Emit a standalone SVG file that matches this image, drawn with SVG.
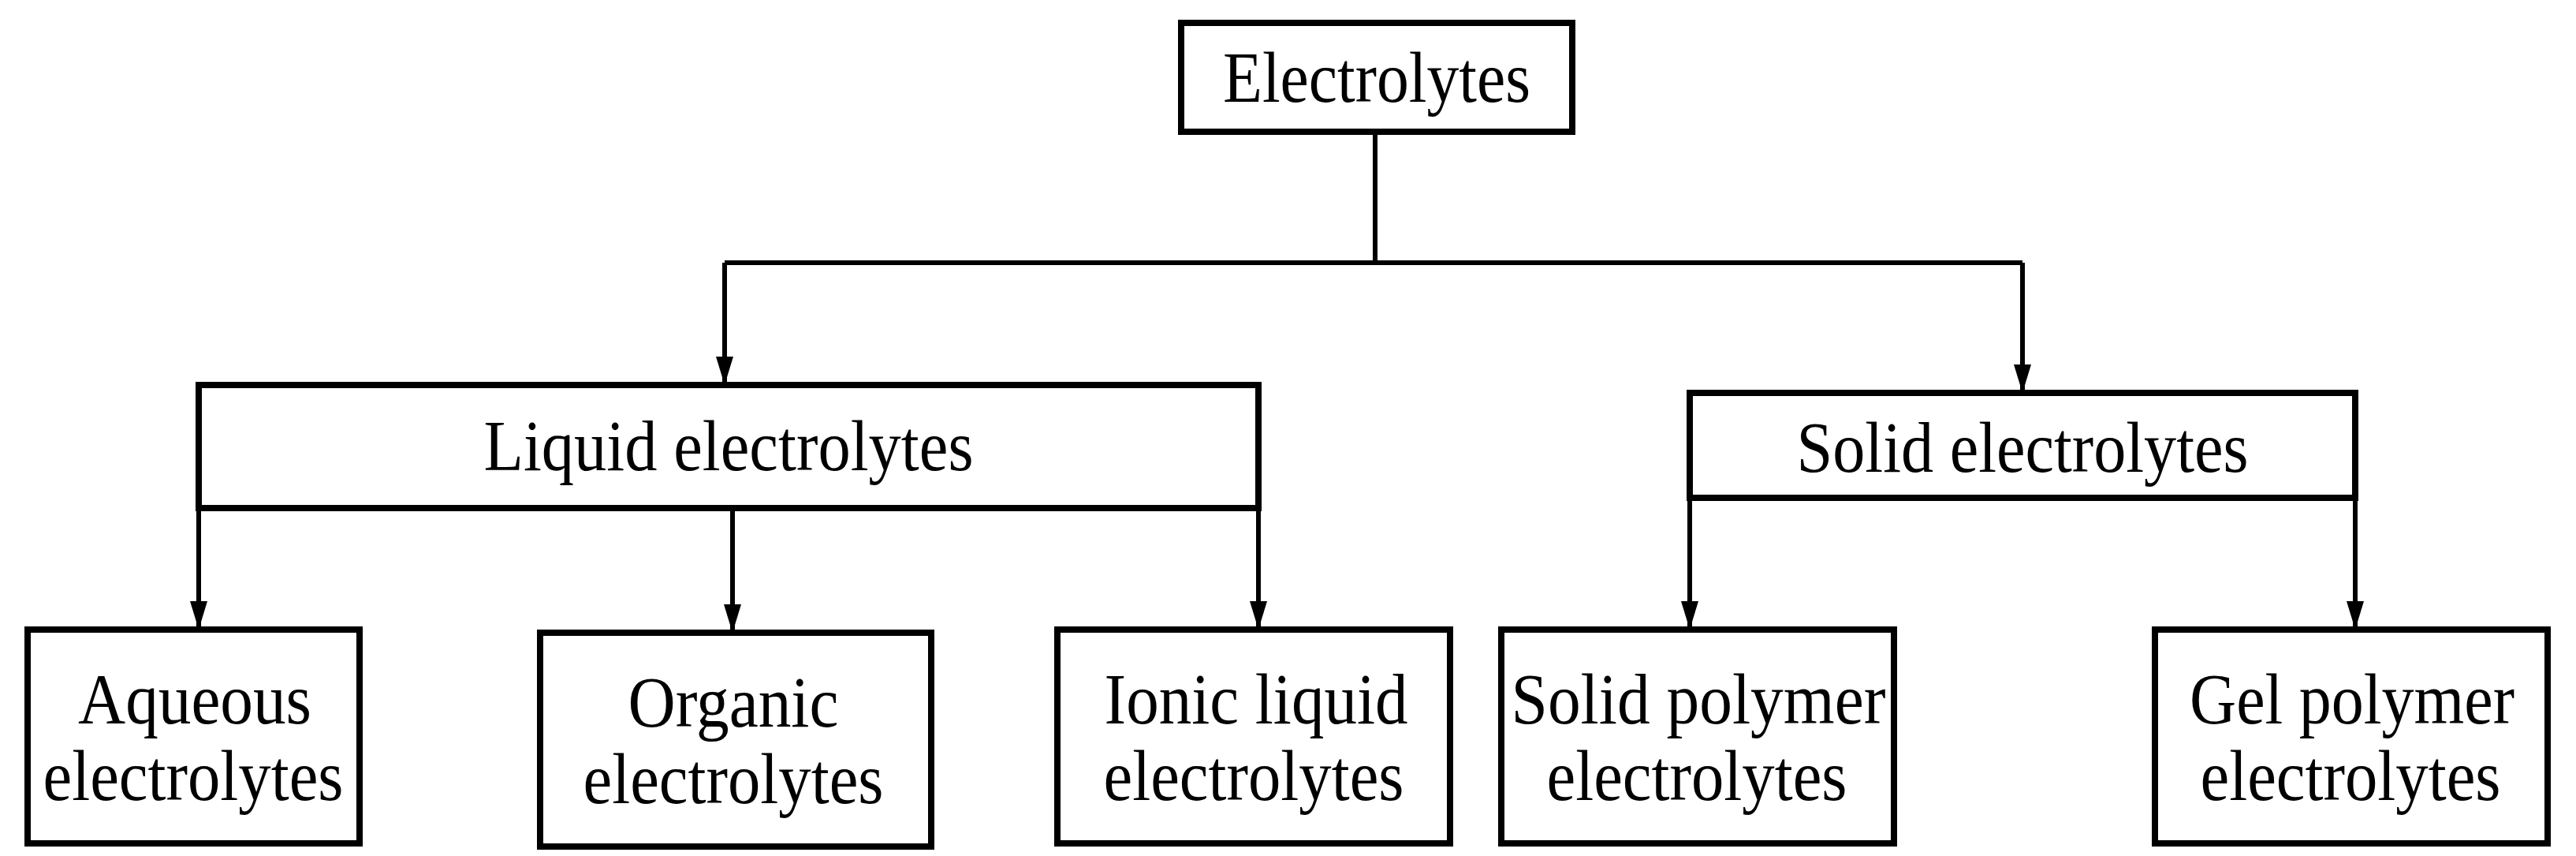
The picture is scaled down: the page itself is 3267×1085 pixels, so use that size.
<svg xmlns="http://www.w3.org/2000/svg" width="3267" height="1085" viewBox="0 0 3267 1085">
<style>
.box{fill:#fff;stroke:#000;stroke-width:8}
.c{fill:none;stroke:#000;stroke-width:6}
text{font-family:"Liberation Serif","Times New Roman",serif;font-size:92px;text-anchor:middle;fill:#000}
</style>
<defs>
<marker id="ah" markerUnits="userSpaceOnUse" markerWidth="22" markerHeight="36" refX="11" refY="36" orient="auto-start-reverse" viewBox="0 0 22 36">
<path d="M0,0 L22,0 L11,36 Z" fill="#000" transform="rotate(-90 11 18) translate(0 0)"/>
</marker>
<marker id="a" markerUnits="userSpaceOnUse" markerWidth="36" markerHeight="22" refX="36" refY="11" orient="auto" viewBox="0 0 36 22">
<path d="M0,0 L36,11 L0,22 Z" fill="#000"/>
</marker>
</defs>
<g id="connectors">
<path class="c" d="M1744,167 V333 M919,333 H2565"/>
<path class="c" marker-end="url(#a)" d="M919,333 V488"/>
<path class="c" marker-end="url(#a)" d="M2565,333 V498"/>
<path class="c" marker-end="url(#a)" d="M252,644 V798"/>
<path class="c" marker-end="url(#a)" d="M929,644 V802"/>
<path class="c" marker-end="url(#a)" d="M1596,644 V798"/>
<path class="c" marker-end="url(#a)" d="M2143,631 V798"/>
<path class="c" marker-end="url(#a)" d="M2987,631 V798"/>
</g>
<g id="electrolytes"><rect class="box" x="1498" y="29" width="496" height="138"/><text x="1746" y="129" textLength="390" lengthAdjust="spacingAndGlyphs">Electrolytes</text></g>
<g id="liquid"><rect class="box" x="252" y="488" width="1344" height="156"/><text x="924" y="596" textLength="621" lengthAdjust="spacingAndGlyphs">Liquid electrolytes</text></g>
<g id="solid"><rect class="box" x="2143" y="498" width="844" height="133"/><text x="2565" y="598" textLength="573" lengthAdjust="spacingAndGlyphs">Solid electrolytes</text></g>
<g id="aqueous"><rect class="box" x="35" y="798" width="421" height="271"/><text x="247" y="917" textLength="296" lengthAdjust="spacingAndGlyphs">Aqueous</text><text x="245" y="1014" textLength="381" lengthAdjust="spacingAndGlyphs">electrolytes</text></g>
<g id="organic"><rect class="box" x="685" y="802" width="496" height="271"/><text x="930" y="921" textLength="267" lengthAdjust="spacingAndGlyphs">Organic</text><text x="930" y="1018" textLength="381" lengthAdjust="spacingAndGlyphs">electrolytes</text></g>
<g id="ionic"><rect class="box" x="1341" y="798" width="498" height="271"/><text x="1593" y="917" textLength="385" lengthAdjust="spacingAndGlyphs">Ionic liquid</text><text x="1590" y="1014" textLength="381" lengthAdjust="spacingAndGlyphs">electrolytes</text></g>
<g id="solidpolymer"><rect class="box" x="1904" y="798" width="498" height="271"/><text x="2154" y="917" textLength="475" lengthAdjust="spacingAndGlyphs">Solid polymer</text><text x="2152" y="1014" textLength="381" lengthAdjust="spacingAndGlyphs">electrolytes</text></g>
<g id="gelpolymer"><rect class="box" x="2733" y="798" width="498" height="271"/><text x="2983" y="917" textLength="412" lengthAdjust="spacingAndGlyphs">Gel polymer</text><text x="2981" y="1014" textLength="381" lengthAdjust="spacingAndGlyphs">electrolytes</text></g>
</svg>
